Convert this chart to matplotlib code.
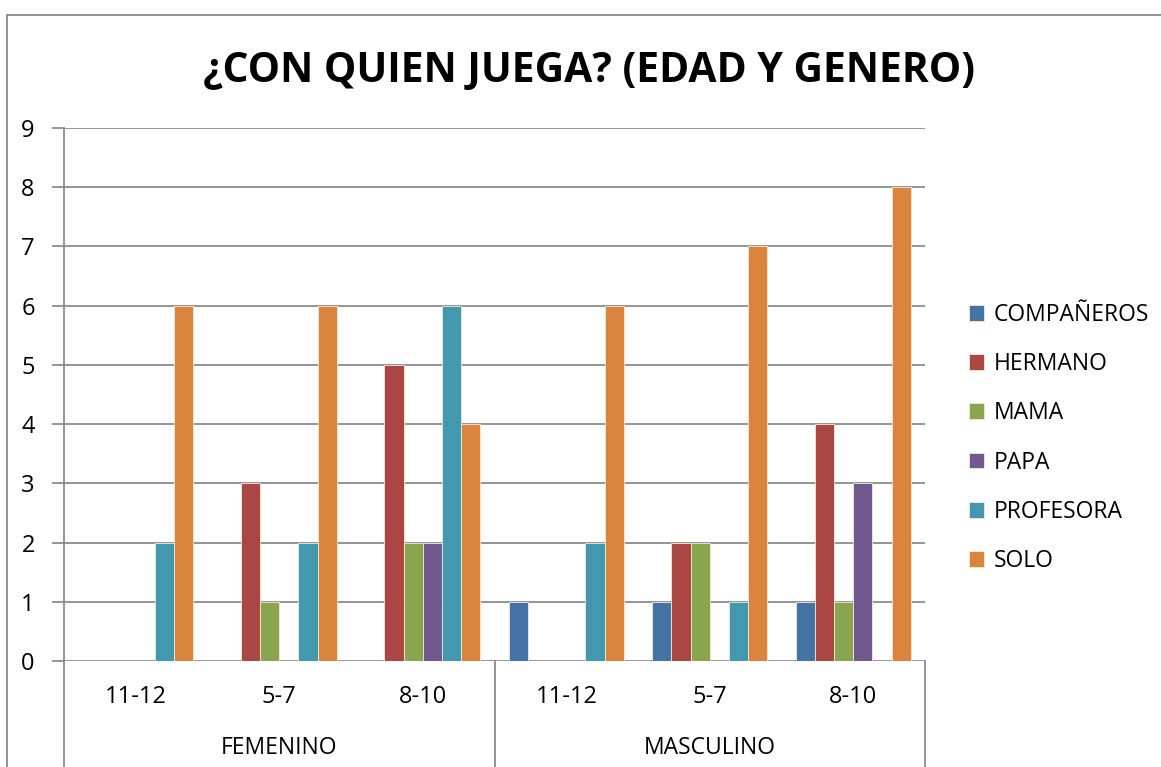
import numpy as np
import matplotlib
matplotlib.use("Agg")
import matplotlib.pyplot as plt
from matplotlib.lines import Line2D
import matplotlib.transforms as mtransforms

plt.rcParams['font.family'] = ['Open Sans', 'DejaVu Sans']

# Data
generos = ["FEMENINO", "MASCULINO"]
edades = ["11-12", "5-7", "8-10", "11-12", "5-7", "8-10"]
series = ["COMPAÑEROS", "HERMANO", "MAMA", "PAPA", "PROFESORA", "SOLO"]
companeros = [0, 0, 0, 1, 1, 1]
hermano = [0, 3, 5, 0, 2, 4]
mama = [0, 1, 2, 0, 2, 1]
papa = [0, 0, 2, 0, 0, 3]
profesora = [2, 2, 6, 2, 1, 0]
solo = [6, 6, 4, 6, 7, 8]
colores = ["#4572A7", "#AA4643", "#89A54E", "#71588F", "#4198AF", "#DB843D"]

valores = [companeros, hermano, mama, papa, profesora, solo]

fig = plt.figure(figsize=(11.61, 7.67), dpi=100)
ax = fig.add_axes([64 / 1161, 1 - 661 / 767, (925 - 64) / 1161, (661 - 128) / 767])

x = np.arange(len(edades))
w = 1 / 7.5
for i, (nombre, vals) in enumerate(zip(series, valores)):
    ax.bar(x + (i - 2.5) * w, vals, width=w, color=colores[i], label=nombre,
           edgecolor="#f3ead8", linewidth=0.6, zorder=3)

ax.set_xlim(-0.5, len(edades) - 0.5)
ax.set_ylim(0, 9)
ax.set_yticks(range(0, 10))
ax.yaxis.grid(True, color="#8c8c8c", linewidth=1.3)
ax.set_axisbelow(True)
ax.set_xticks([])
for s in ["top", "right", "bottom"]:
    ax.spines[s].set_visible(False)
ax.spines["left"].set_color("#8c8c8c")
ax.spines["left"].set_linewidth(1.3)
ax.tick_params(axis="y", length=9, width=1.3, color="#8c8c8c", labelsize=17, pad=12)

# multi-level category axis
trans = mtransforms.blended_transform_factory(ax.transData, ax.transAxes)
for xs in [-0.5, 2.5, 5.5]:
    ax.add_line(Line2D([xs, xs], [0, -0.2], transform=trans, color="#8c8c8c",
                       linewidth=1.3, clip_on=False))
for xi, lab in zip(x, edades):
    ax.text(xi, -0.0675, lab, transform=trans, ha="center", va="center", fontsize=17)
for j, g in enumerate(generos):
    ax.text(1 + 3 * j, -0.163, g, transform=trans, ha="center", va="center", fontsize=16.5)

ax.set_title("¿CON QUIEN JUEGA? (EDAD Y GENERO)", fontsize=29.4, fontweight="bold",
             x=(589 - 64) / (925 - 64), pad=33)

ax.legend(loc="center left", bbox_to_anchor=(948 / 1161, 1 - 438 / 767),
          bbox_transform=fig.transFigure, frameon=False, fontsize=16.5,
          handlelength=0.68, handleheight=0.68, handletextpad=0.4, labelspacing=1.1)

# chart border
fig.add_artist(Line2D([7 / 1161, 1.0], [1 - 15 / 767, 1 - 15 / 767], color="#8c8c8c", linewidth=1.3))
fig.add_artist(Line2D([7 / 1161, 7 / 1161], [1 - 15 / 767, 0.0], color="#8c8c8c", linewidth=1.3))

fig.savefig("out.png", dpi=100)
